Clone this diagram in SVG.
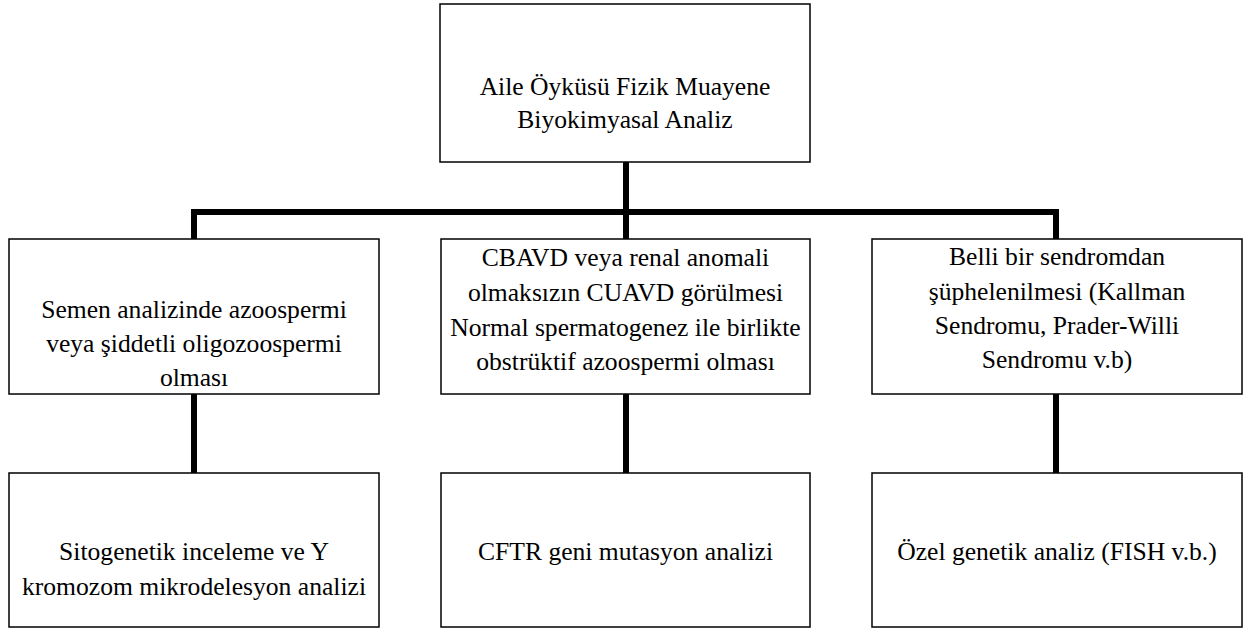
<svg xmlns="http://www.w3.org/2000/svg" width="1244" height="628" viewBox="0 0 1244 628">
<style>
.box{fill:#fff;stroke:#000;stroke-width:1.5}
.t{font-family:'Liberation Serif','Times New Roman',serif;font-size:25.6px;fill:#000;text-anchor:middle}
.c{fill:none;stroke:#000;stroke-width:6;stroke-linejoin:miter;stroke-linecap:butt}
</style>
<rect width="1244" height="628" fill="#fff"/>
<g id="connectors">
<path class="c" d="M626 162 V239"/>
<path class="c" d="M194 239 V212 H1056 V239"/>
<path class="c" d="M194 394 V473"/>
<path class="c" d="M626 394 V473"/>
<path class="c" d="M1056 394 V473"/>
</g>
<g id="top">
<rect class="box" x="440" y="4" width="370" height="158"/>
<text class="t" x="625" y="95">Aile Öyküsü Fizik Muayene</text>
<text class="t" x="625" y="128">Biyokimyasal Analiz</text>
</g>
<g id="mid-left">
<rect class="box" x="9" y="239" width="370" height="155"/>
<text class="t" x="194" y="318">Semen analizinde azoospermi</text>
<text class="t" x="194" y="352">veya şiddetli oligozoospermi</text>
<text class="t" x="194" y="386">olması</text>
</g>
<g id="mid-center">
<rect class="box" x="441" y="239" width="369" height="155"/>
<text class="t" x="625.5" y="266">CBAVD veya renal anomali</text>
<text class="t" x="625.5" y="301">olmaksızın CUAVD görülmesi</text>
<text class="t" x="625.5" y="336">Normal spermatogenez ile birlikte</text>
<text class="t" x="625.5" y="370">obstrüktif azoospermi olması</text>
</g>
<g id="mid-right">
<rect class="box" x="872" y="239" width="370" height="155"/>
<text class="t" x="1057" y="265">Belli bir sendromdan</text>
<text class="t" x="1057" y="300">şüphelenilmesi (Kallman</text>
<text class="t" x="1057" y="334">Sendromu, Prader-Willi</text>
<text class="t" x="1057" y="368">Sendromu v.b)</text>
</g>
<g id="bottom-left">
<rect class="box" x="9" y="473" width="370" height="154"/>
<text class="t" x="194" y="560">Sitogenetik inceleme ve Y</text>
<text class="t" x="194" y="595">kromozom mikrodelesyon analizi</text>
</g>
<g id="bottom-center">
<rect class="box" x="441" y="473" width="369" height="154"/>
<text class="t" x="625.5" y="560">CFTR geni mutasyon analizi</text>
</g>
<g id="bottom-right">
<rect class="box" x="872" y="473" width="370" height="154"/>
<text class="t" x="1057" y="560">Özel genetik analiz (FISH v.b.)</text>
</g>
</svg>
